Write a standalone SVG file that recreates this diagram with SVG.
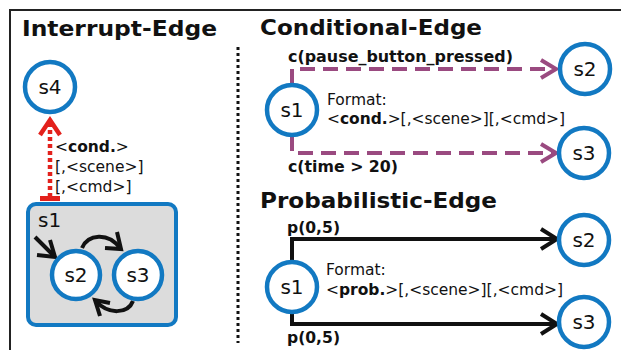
<svg xmlns="http://www.w3.org/2000/svg" width="621" height="350" viewBox="0 0 621 350">
<style>
text{font-family:"DejaVu Sans","Verdana",sans-serif;fill:#111}
.title{font-size:21px;font-weight:bold}
.lbl{font-size:20px;text-anchor:middle}
.fmt{font-size:15.5px}
.cl{font-size:16px;font-weight:bold}
.st{fill:#fff;stroke:#1279c2;stroke-width:4.5}
.purple{fill:none;stroke:#9a4a80;stroke-width:4}
.dash{stroke-dasharray:15 8}
.blk{fill:none;stroke:#111;stroke-width:4}
.red{fill:none;stroke:#e3211c;stroke-width:4.5}
</style>
<rect width="621" height="350" fill="#fff"/>
<path d="M10,350 V10 H621" fill="none" stroke="#222" stroke-width="2"/>
<line x1="238" y1="47" x2="238" y2="343" stroke="#111" stroke-width="3" stroke-dasharray="3 3"/>

<text class="title" x="22" y="36" textLength="195" lengthAdjust="spacingAndGlyphs">Interrupt-Edge</text>
<text class="title" x="260" y="35" textLength="222" lengthAdjust="spacingAndGlyphs">Conditional-Edge</text>
<text class="title" x="260" y="208" textLength="237" lengthAdjust="spacingAndGlyphs">Probabilistic-Edge</text>

<g id="i-s1">
  <rect x="28" y="204" width="148" height="121" rx="8" fill="#dcdcdc" stroke="#1279c2" stroke-width="4"/>
  <text x="38" y="227" style="font-size:20px">s1</text>
</g>

<g id="connectors">
  <!-- interrupt -->
  <line class="red" x1="50" y1="197" x2="50" y2="124" stroke-dasharray="4 3"/>
  <polyline class="red" points="40,135 50,120 60,135" stroke-width="5"/>
  <rect x="40" y="196" width="20" height="5" fill="#e3211c"/>
  <!-- inner box arrows -->
  <line class="blk" x1="35" y1="237" x2="54" y2="256"/>
  <polyline class="blk" points="50,240 55,257 37,255"/>
  <path class="blk" d="M82,248 C88,234 108,232 120,248"/>
  <polyline class="blk" points="117,232 121,249 105,248"/>
  <path class="blk" d="M133,301 C128,314 108,315 96,301"/>
  <polyline class="blk" points="100,316 95,300 110,303"/>
  <!-- conditional -->
  <path class="purple dash" d="M292,84 V69 H554"/>
  <polyline class="purple" points="541,60 556,69 541,78"/>
  <path class="purple dash" d="M292,136 V153 H554"/>
  <polyline class="purple" points="541,144 556,153 541,162"/>
  <!-- probabilistic -->
  <path class="blk" d="M292,262 V239 H555"/>
  <polyline class="blk" points="541,229 557,239 541,249"/>
  <path class="blk" d="M292,312 V324 H555"/>
  <polyline class="blk" points="541,314 557,324 541,334"/>
</g>

<g id="interrupt-label">
  <text class="fmt" x="55" y="152">&lt;<tspan font-weight="bold">cond.</tspan>&gt;</text>
  <text class="fmt" x="55" y="172">[,&lt;scene&gt;]</text>
  <text class="fmt" x="55" y="192">[,&lt;cmd&gt;]</text>
</g>

<g id="i-s4"><circle class="st" cx="50" cy="87" r="25"/><text class="lbl" x="50" y="94">s4</text></g>
<g id="i-s2"><circle class="st" cx="76" cy="275" r="24"/><text class="lbl" x="76" y="282">s2</text></g>
<g id="i-s3"><circle class="st" cx="138" cy="275" r="24"/><text class="lbl" x="138" y="282">s3</text></g>

<g id="c-s1"><circle class="st" cx="292" cy="110" r="25"/><text class="lbl" x="292" y="117">s1</text></g>
<g id="c-s2"><circle class="st" cx="585" cy="69" r="25"/><text class="lbl" x="585" y="76">s2</text></g>
<g id="c-s3"><circle class="st" cx="584" cy="153" r="25"/><text class="lbl" x="584" y="160">s3</text></g>
<g id="c-labels">
  <text class="cl" x="288" y="62" textLength="225" lengthAdjust="spacingAndGlyphs">c(pause_button_pressed)</text>
  <text class="cl" x="288" y="172" textLength="110" lengthAdjust="spacingAndGlyphs">c(time &gt; 20)</text>
  <text class="fmt" x="327" y="105">Format:</text>
  <text class="fmt" x="327" y="124" textLength="238" lengthAdjust="spacingAndGlyphs">&lt;<tspan font-weight="bold">cond.</tspan>&gt;[,&lt;scene&gt;][,&lt;cmd&gt;]</text>
</g>

<g id="p-s1"><circle class="st" cx="292" cy="287" r="25"/><text class="lbl" x="292" y="294">s1</text></g>
<g id="p-s2"><circle class="st" cx="584" cy="240" r="25"/><text class="lbl" x="584" y="247">s2</text></g>
<g id="p-s3"><circle class="st" cx="584" cy="322" r="25"/><text class="lbl" x="584" y="329">s3</text></g>
<g id="p-labels">
  <text class="cl" x="287" y="233" textLength="53" lengthAdjust="spacingAndGlyphs">p(0,5)</text>
  <text class="cl" x="287" y="343" textLength="53" lengthAdjust="spacingAndGlyphs">p(0,5)</text>
  <text class="fmt" x="326" y="275">Format:</text>
  <text class="fmt" x="326" y="295" textLength="237" lengthAdjust="spacingAndGlyphs">&lt;<tspan font-weight="bold">prob.</tspan>&gt;[,&lt;scene&gt;][,&lt;cmd&gt;]</text>
</g>
</svg>
